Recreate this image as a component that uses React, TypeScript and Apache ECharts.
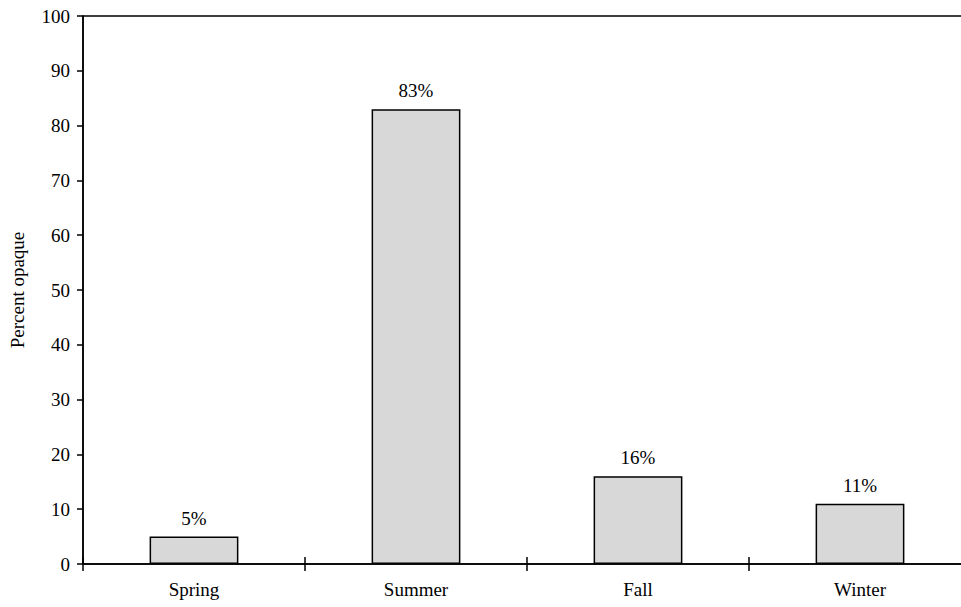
import React, { useEffect, useRef } from "react";
import * as echarts from "echarts";

const categories = ["Spring", "Summer", "Fall", "Winter"];
const values = [5, 83, 16, 11];
const yMin = 0;
const yMax = 100;
const yInterval = 10;
const yName = "Percent opaque";

export default function App() {
  const ref = useRef<HTMLDivElement>(null);
  useEffect(() => {
    document.body.style.margin = "0";
    const chart = echarts.init(ref.current!, null, { renderer: "svg" });
    const font = "'Liberation Serif', 'Times New Roman', serif";
    chart.setOption({
      animation: false,
      backgroundColor: "#ffffff",
      textStyle: { fontFamily: font, color: "#000" },
      grid: {
        left: 83,
        right: 0,
        top: 16,
        bottom: 43,
        outerBoundsMode: "none",
        containLabel: false,
        show: true,
        borderColor: "#000",
        borderWidth: 1.5,
      },
      xAxis: [
        {
          type: "category",
          data: categories,
          boundaryGap: true,
          axisLine: { lineStyle: { color: "#000", width: 1.5 } },
          axisTick: { show: true, length: 7, lineStyle: { color: "#000", width: 1.5 } },
          axisLabel: { fontFamily: font, fontSize: 19, color: "#000", margin: 16 },
        },
        {
          type: "category",
          data: categories,
          position: "bottom",
          boundaryGap: true,
          axisLine: { show: false },
          axisTick: { show: true, inside: true, length: 7, lineStyle: { color: "#000", width: 1.5 } },
          axisLabel: { show: false },
        },
      ],
      yAxis: {
        type: "value",
        min: yMin,
        max: yMax,
        interval: yInterval,
        name: yName,
        nameLocation: "middle",
        nameGap: 56,
        nameTextStyle: { fontFamily: font, fontSize: 19, color: "#000" },
        axisLine: { show: true, lineStyle: { color: "#000", width: 1.5 } },
        axisTick: { show: true, length: 6, lineStyle: { color: "#000", width: 1.5 } },
        axisLabel: { fontFamily: font, fontSize: 19, color: "#000", margin: 13 },
        splitLine: { show: false },
      },
      series: [
        {
          type: "bar",
          data: values,
          barWidth: "40%",
          itemStyle: {
            color: "#d8d8d8",
            borderColor: "#000",
            borderWidth: 1.5,
          },
          label: {
            show: true,
            position: "top",
            distance: 9,
            formatter: (p: any) => `${p.value}%`,
            fontFamily: font,
            fontSize: 19,
            color: "#000",
          },
        },
      ],
    });
    return () => chart.dispose();
  }, []);
  return (
    <div style={{ width: 961, height: 607, overflow: "hidden", position: "relative" }}>
      <div ref={ref} style={{ width: 971, height: 607 }} />
    </div>
  );
}
